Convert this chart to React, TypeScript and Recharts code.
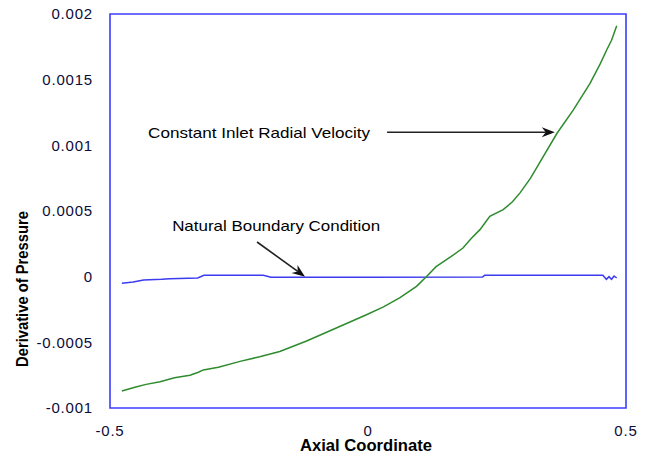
import React from 'react';
import { LineChart, Line, XAxis, YAxis, ReferenceArea, ReferenceLine, ReferenceDot } from 'recharts';

// axial coordinate / derivative of pressure
const inletX = [
  -0.477, -0.45, -0.43, -0.403, -0.375, -0.345, -0.33, -0.319, -0.29, -0.248, -0.21, -0.171,
  -0.119, -0.067, -0.003, 0.03, 0.062, 0.094, 0.113, 0.132, 0.16, 0.184, 0.2, 0.217, 0.236,
  0.262, 0.28, 0.295, 0.315, 0.333, 0.366, 0.398, 0.43, 0.45, 0.463, 0.472, 0.482,
];
const inletY = [
  -0.00087, -0.00084, -0.00082, -0.0008, -0.00077, -0.00075, -0.00073, -0.00071, -0.00069,
  -0.000645, -0.00061, -0.00057, -0.00049, -0.0004, -0.00029, -0.00023, -0.00016, -0.000074,
  0.0, 0.000076, 0.00015, 0.000218, 0.00029, 0.000358, 0.00046, 0.00051, 0.00057, 0.00064,
  0.00075, 0.00087, 0.00109, 0.00127, 0.00147, 0.00162, 0.00173, 0.0018, 0.00191,
];

const naturalX = [
  -0.477, -0.455, -0.435, -0.4, -0.384, -0.33, -0.318, -0.203, -0.188, 0.0, 0.222, 0.226,
  0.455, 0.462, 0.467, 0.472, 0.477, 0.482,
];
const naturalY = [
  -0.00005, -0.00004, -0.000025, -0.00002, -0.000015, -0.00001, 0.00001, 0.00001, -0.000005,
  -0.000005, -0.000003, 0.00001, 0.00001, -0.00002, 0.0, -0.00002, 0.000005, -0.00001,
];

const xTicks = [-0.5, 0, 0.5];
const yTicks = [-0.001, -0.0005, 0, 0.0005, 0.001, 0.0015, 0.002];

const inletData = inletX.map((x, i) => ({ x, y: inletY[i] }));
const naturalData = naturalX.map((x, i) => ({ x, y: naturalY[i] }));

const FONT = '"Liberation Sans", Arial, sans-serif';
const FRAME = '#3d3dff';

const tickStyle = { fontSize: 15, fill: '#0c0c3a', fontFamily: FONT, letterSpacing: 0.8 };

// line with a filled arrowhead at its end point
const Arrow = (props: any) => {
  const { x1, y1, x2, y2 } = props;
  const a = Math.atan2(y2 - y1, x2 - x1);
  const len = 13;
  const half = 5;
  const back = (d: number, side: number) => [
    x2 - Math.cos(a) * d - Math.sin(a) * side,
    y2 - Math.sin(a) * d + Math.cos(a) * side,
  ];
  const p1 = back(len, half);
  const p2 = back(len - 4, 0);
  const p3 = back(len, -half);
  return (
    <g>
      <line x1={x1} y1={y1} x2={p2[0]} y2={p2[1]} stroke="#222" strokeWidth={1.6} />
      <polygon
        points={`${x2},${y2} ${p1[0]},${p1[1]} ${p2[0]},${p2[1]} ${p3[0]},${p3[1]}`}
        fill="#111"
      />
    </g>
  );
};

const noteLabel = (text: string, length: number) => (props: any) => {
  const vb = props.viewBox || {};
  return (
    <text
      x={vb.x}
      y={vb.y}
      textAnchor="middle"
      dominantBaseline="central"
      fontFamily={FONT}
      fontSize={15}
      textLength={length}
      lengthAdjust="spacingAndGlyphs"
      fill="#000"
    >
      {text}
    </text>
  );
};

export default function App() {
  return (
    <div style={{ position: 'absolute', left: 0, top: 0, background: '#fff' }}>
      <LineChart width={649} height={459} margin={{ top: 14, right: 23, bottom: 0, left: 10 }}>
        <XAxis
          type="number"
          dataKey="x"
          domain={[-0.5, 0.5]}
          ticks={xTicks}
          axisLine={false}
          tickLine={false}
          tickMargin={11}
          height={51}
          tick={tickStyle}
          label={{
            content: (p: any) => (
              <text
                x={p.viewBox.x + p.viewBox.width / 2 - 2}
                y={p.viewBox.y + 43}
                textAnchor="middle"
                fontFamily={FONT}
                fontWeight="bold"
                fontSize={16}
                textLength={132}
                lengthAdjust="spacingAndGlyphs"
                fill="#000"
              >
                Axial Coordinate
              </text>
            ),
          }}
        />
        <YAxis
          type="number"
          dataKey="y"
          domain={[-0.001, 0.002]}
          ticks={yTicks}
          axisLine={false}
          tickLine={false}
          tickMargin={11}
          width={100}
          tick={tickStyle}
          label={{
            content: (p: any) => {
              const cx = p.viewBox.x + 12;
              const cy = p.viewBox.y + p.viewBox.height / 2 + 78;
              return (
                <text
                  x={cx}
                  y={cy}
                  transform={`rotate(-90 ${cx} ${cy})`}
                  textAnchor="middle"
                  dominantBaseline="central"
                  fontFamily={FONT}
                  fontWeight="bold"
                  fontSize={17}
                  textLength={156}
                  lengthAdjust="spacingAndGlyphs"
                  fill="#000"
                >
                  Derivative of Pressure
                </text>
              );
            },
          }}
        />
        <ReferenceArea
          x1={-0.5}
          x2={0.5}
          y1={-0.001}
          y2={0.002}
          fill="none"
          stroke={FRAME}
          strokeWidth={1.6}
          ifOverflow="visible"
        />
        <Line
          data={naturalData}
          dataKey="y"
          stroke="#3b3bf0"
          strokeWidth={1.5}
          dot={false}
          isAnimationActive={false}
        />
        <Line
          data={inletData}
          dataKey="y"
          stroke="#2e8b2e"
          strokeWidth={1.5}
          dot={false}
          isAnimationActive={false}
        />
        <ReferenceLine
          segment={[{ x: 0.037, y: 0.0011 }, { x: 0.362, y: 0.0011 }]}
          shape={Arrow}
        />
        <ReferenceLine
          segment={[{ x: -0.215, y: 0.000264 }, { x: -0.122, y: 0.0 }]}
          shape={Arrow}
        />
        <ReferenceDot
          x={-0.211}
          y={0.0011}
          r={0}
          fill="none"
          stroke="none"
          label={{ content: noteLabel('Constant Inlet Radial Velocity', 222) }}
        />
        <ReferenceDot
          x={-0.178}
          y={0.000386}
          r={0}
          fill="none"
          stroke="none"
          label={{ content: noteLabel('Natural Boundary Condition', 208) }}
        />
      </LineChart>
    </div>
  );
}
